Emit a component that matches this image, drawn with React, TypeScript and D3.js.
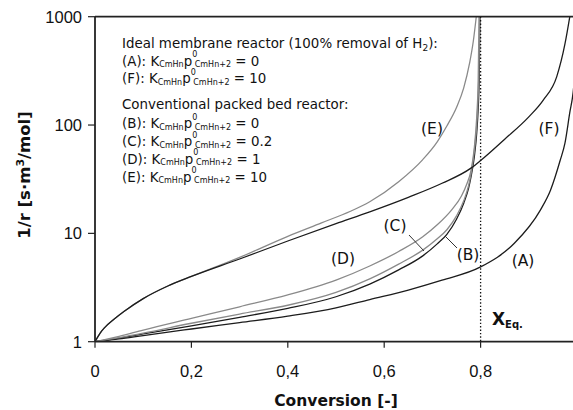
import React from 'react';
import * as d3 from 'd3';

const W = 573;
const H = 410;

// Inverse reaction rate 1/r [s·m³/mol] against conversion for each case
const convA = [0, 0.05, 0.1, 0.2, 0.3, 0.4, 0.5, 0.57, 0.65, 0.72, 0.8, 0.87, 0.924, 0.945, 0.965, 0.975, 0.985, 0.992, 0.998];
const rateA = [1, 1.06, 1.14, 1.31, 1.5, 1.72, 2.05, 2.45, 3.0, 3.7, 4.9, 8.1, 16.4, 25, 47, 68, 130, 200, 420];

const convB = [0, 0.05, 0.1, 0.2, 0.3, 0.4, 0.5, 0.57, 0.63, 0.68, 0.71, 0.73, 0.75, 0.765, 0.775, 0.78, 0.787, 0.792, 0.795, 0.797, 0.7988];
const rateB = [1, 1.08, 1.18, 1.4, 1.68, 2.03, 2.6, 3.4, 4.6, 6.2, 8.0, 9.8, 13.5, 19, 26, 33, 51, 85, 142, 256, 1000];

const convC = [0, 0.05, 0.1, 0.2, 0.3, 0.4, 0.5, 0.57, 0.63, 0.68, 0.71, 0.73, 0.75, 0.765, 0.775, 0.78, 0.787, 0.792, 0.795, 0.797, 0.7978];
const rateC = [1, 1.09, 1.2, 1.48, 1.8, 2.17, 2.85, 3.8, 5.2, 7.0, 8.9, 10.8, 14.5, 20, 27.5, 35, 58, 102, 190, 444, 1000];

const convD = [0, 0.05, 0.1, 0.2, 0.3, 0.4, 0.5, 0.57, 0.63, 0.68, 0.71, 0.74, 0.76, 0.772, 0.78, 0.787, 0.792, 0.795, 0.7968];
const rateD = [1, 1.12, 1.28, 1.64, 2.1, 2.7, 3.7, 5.0, 6.8, 9.3, 12, 16.5, 22, 29, 38, 62, 120, 260, 1000];

const convE = [0, 0.01, 0.02, 0.04, 0.06, 0.1, 0.15, 0.2, 0.3, 0.4, 0.47, 0.53, 0.57, 0.63, 0.68, 0.71, 0.73, 0.75, 0.765, 0.777, 0.785, 0.791];
const rateE = [1, 1.19, 1.35, 1.62, 1.9, 2.5, 3.25, 4.0, 6.0, 9.4, 12.5, 16, 19.6, 30, 48, 70, 98, 145, 220, 370, 600, 1000];

const convF = [0, 0.01, 0.02, 0.04, 0.06, 0.1, 0.15, 0.2, 0.3, 0.4, 0.5, 0.57, 0.65, 0.72, 0.78, 0.8, 0.85, 0.9, 0.93, 0.958, 0.975, 0.985];
const rateF = [1, 1.19, 1.35, 1.62, 1.9, 2.5, 3.25, 4.0, 5.8, 8.5, 12.3, 15.8, 21.5, 29, 40, 47, 74, 119, 170, 280, 560, 1000];

const xTicks = [0, 0.2, 0.4, 0.6, 0.8, 1];
const yTicks = [1, 10, 100, 1000];
const xEq = 0.8;

const BLACK = '#1c1c1c';
const GREY = '#8a8a8a';

const series = [
  { id: 'A', conv: convA, rate: rateA, color: BLACK },
  { id: 'B', conv: convB, rate: rateB, color: BLACK },
  { id: 'C', conv: convC, rate: rateC, color: GREY },
  { id: 'D', conv: convD, rate: rateD, color: GREY },
  { id: 'E', conv: convE, rate: rateE, color: GREY },
  { id: 'F', conv: convF, rate: rateF, color: BLACK },
];

const legendIdeal = [
  { label: '(A)', value: '0' },
  { label: '(F)', value: '10' },
];
const legendPacked = [
  { label: '(B)', value: '0' },
  { label: '(C)', value: '0.2' },
  { label: '(D)', value: '1' },
  { label: '(E)', value: '10' },
];

const plot = { left: 95, right: 577, top: 16.7, bottom: 341.7 };

const LEGEND_FONT = "'DejaVu Sans', Verdana, sans-serif";
const TICK_FONT = "'Liberation Sans', Arial, sans-serif";

function KLine({ x, y, label, value }: { x: number; y: number; label: string; value: string }) {
  return (
    <text x={x} y={y} fontSize={13.4} fontFamily={LEGEND_FONT} fill="#111">
      {label}: K
      <tspan fontSize={8} dy={1.5}>CmHn</tspan>
      <tspan dy={-1.5}>p</tspan>
      <tspan fontSize={8} dy={-8.5}>0</tspan>
      <tspan fontSize={8} dx={-2.5} dy={10}>CmHn+2</tspan>
      <tspan dy={-1.5}>{` = ${value}`}</tspan>
    </text>
  );
}

export default function App() {
  const x = d3.scaleLinear().domain([0, 1]).range([plot.left, plot.right]);
  const y = d3.scaleLog().domain([1, 1000]).range([plot.bottom, plot.top]);
  const line = d3
    .line<[number, number]>()
    .x((d) => x(d[0]))
    .y((d) => y(d[1]))
    .curve(d3.curveMonotoneX);

  const fmt = (v: number) => String(v).replace('.', ',');

  return (
    <svg
      width={W}
      height={H}
      viewBox={`0 0 ${W} ${H}`}
      style={{ position: 'absolute', left: 0, top: 0, background: '#fff' }}
    >
      <defs>
        <clipPath id="plot-area">
          <rect x={plot.left} y={plot.top} width={plot.right - plot.left} height={plot.bottom - plot.top} />
        </clipPath>
      </defs>
      <rect width={W} height={H} fill="#fff" />

      {/* curves */}
      <g clipPath="url(#plot-area)" fill="none">
        {series.map((s) => (
          <path
            key={s.id}
            d={line(s.conv.map((c, i) => [c, s.rate[i]] as [number, number])) || ''}
            stroke={s.color}
            strokeWidth={1.3}
          />
        ))}
      </g>

      {/* equilibrium conversion */}
      <line
        x1={x(xEq)}
        x2={x(xEq)}
        y1={y(1000)}
        y2={y(1)}
        stroke="#111"
        strokeWidth={1.3}
        strokeDasharray="1.4 2"
      />

      {/* frame and axes */}
      <line x1={plot.left} x2={W} y1={plot.top} y2={plot.top} stroke="#222" strokeWidth={1.8} />
      <line x1={plot.left} x2={W} y1={plot.bottom} y2={plot.bottom} stroke="#222" strokeWidth={1.8} />
      <line x1={plot.left} x2={plot.left} y1={plot.top} y2={plot.bottom} stroke="#222" strokeWidth={1.8} />

      {yTicks.map((t) => (
        <g key={`y${t}`}>
          <line x1={plot.left - 7} x2={plot.left} y1={y(t)} y2={y(t)} stroke="#222" strokeWidth={1.2} />
          <text
            x={plot.left - 13}
            y={y(t)}
            dy="0.36em"
            textAnchor="end"
            fontSize={16.5}
            fontFamily={TICK_FONT}
            fill="#111"
          >
            {t}
          </text>
        </g>
      ))}
      {xTicks.map((t) => (
        <g key={`x${t}`}>
          <line x1={x(t)} x2={x(t)} y1={plot.bottom} y2={plot.bottom + 6} stroke="#222" strokeWidth={1.2} />
          <text
            x={x(t)}
            y={376.5}
            textAnchor="middle"
            fontSize={16.5}
            fontFamily={TICK_FONT}
            fill="#111"
          >
            {fmt(t)}
          </text>
        </g>
      ))}

      {/* axis titles */}
      <text
        x={(plot.left + plot.right) / 2}
        y={406}
        textAnchor="middle"
        fontSize={15.5}
        fontWeight="bold"
        fontFamily={LEGEND_FONT}
        fill="#111"
      >
        Conversion [-]
      </text>
      <text
        transform="translate(30,175) rotate(-90)"
        textAnchor="middle"
        fontSize={16.5}
        fontWeight="bold"
        fontFamily={LEGEND_FONT}
        fill="#111"
      >
        1/r [s·m<tspan fontSize={11} dy={-6}>3</tspan>
        <tspan dy={6}>/mol]</tspan>
      </text>

      {/* legend */}
      <text x={122} y={48} fontSize={13.4} fontFamily={LEGEND_FONT} fill="#111">
        Ideal membrane reactor (100% removal of H<tspan fontSize={9} dy={2.5}>2</tspan>
        <tspan dy={-2.5}>):</tspan>
      </text>
      {legendIdeal.map((l, i) => (
        <KLine key={l.label} x={122} y={65.7 + i * 17.6} label={l.label} value={l.value} />
      ))}
      <text x={122} y={109.3} fontSize={13.4} fontFamily={LEGEND_FONT} fill="#111">
        Conventional packed bed reactor:
      </text>
      {legendPacked.map((l, i) => (
        <KLine key={l.label} x={122} y={128.3 + i * 17.8} label={l.label} value={l.value} />
      ))}

      {/* curve labels */}
      <g fontSize={15.5} fontFamily={LEGEND_FONT} fill="#111" textAnchor="middle">
        <text x={432} y={134}>(E)</text>
        <text x={549} y={134}>(F)</text>
        <text x={343} y={264}>(D)</text>
        <text x={395} y={231}>(C)</text>
        <text x={468} y={260}>(B)</text>
        <text x={523} y={266}>(A)</text>
      </g>
      <line x1={409} y1={235} x2={424} y2={251} stroke="#333" strokeWidth={1} />
      <line x1={445} y1={236} x2={457} y2={248} stroke="#333" strokeWidth={1} />

      {/* equilibrium label */}
      <text x={492} y={325} fontSize={17} fontWeight="bold" fontFamily={LEGEND_FONT} fill="#111">
        X<tspan fontSize={10} dy={3}>Eq.</tspan>
      </text>
    </svg>
  );
}
